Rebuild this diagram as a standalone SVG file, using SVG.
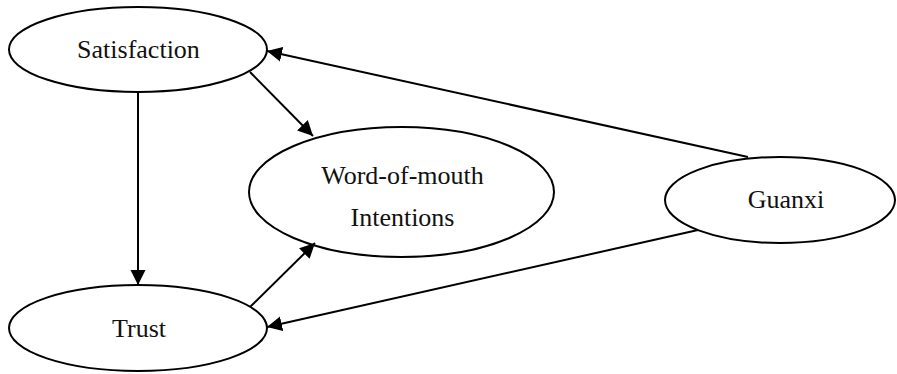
<svg xmlns="http://www.w3.org/2000/svg" width="897" height="374" viewBox="0 0 897 374">
  <style>
    .node ellipse { fill: #fff; stroke: #000; stroke-width: 2; }
    .node text { font-family: "Liberation Serif", "Times New Roman", serif; font-size: 26px; fill: #111; text-anchor: middle; }
    .edges line { stroke: #000; stroke-width: 2; marker-end: url(#arrow); }
  </style>
  <defs>
    <marker id="arrow" markerUnits="userSpaceOnUse" markerWidth="16" markerHeight="16" refX="15" refY="8" orient="auto">
      <path d="M0,0.5 L15,8 L0,15.5 z" fill="#000"/>
    </marker>
  </defs>

  <g id="satisfaction" class="node">
    <ellipse cx="138" cy="49.5" rx="129" ry="42.5"/>
    <text x="138.5" y="58">Satisfaction</text>
  </g>
  <g id="trust" class="node">
    <ellipse cx="138" cy="328" rx="129" ry="43"/>
    <text x="139" y="337">Trust</text>
  </g>
  <g id="wom" class="node">
    <ellipse cx="401.5" cy="192" rx="152.5" ry="65"/>
    <text x="402.5" y="184">Word-of-mouth</text>
    <text x="402.5" y="226">Intentions</text>
  </g>
  <g id="guanxi" class="node">
    <ellipse cx="780" cy="200" rx="115" ry="43"/>
    <text x="786" y="208">Guanxi</text>
  </g>

  <g id="edges" class="edges">
    <line x1="138" y1="92" x2="138" y2="285"/>
    <line x1="250" y1="72" x2="313" y2="136"/>
    <line x1="250" y1="307" x2="315" y2="243"/>
    <line x1="748" y1="157" x2="267" y2="51"/>
    <line x1="698" y1="230" x2="267" y2="327"/>
  </g>
</svg>
